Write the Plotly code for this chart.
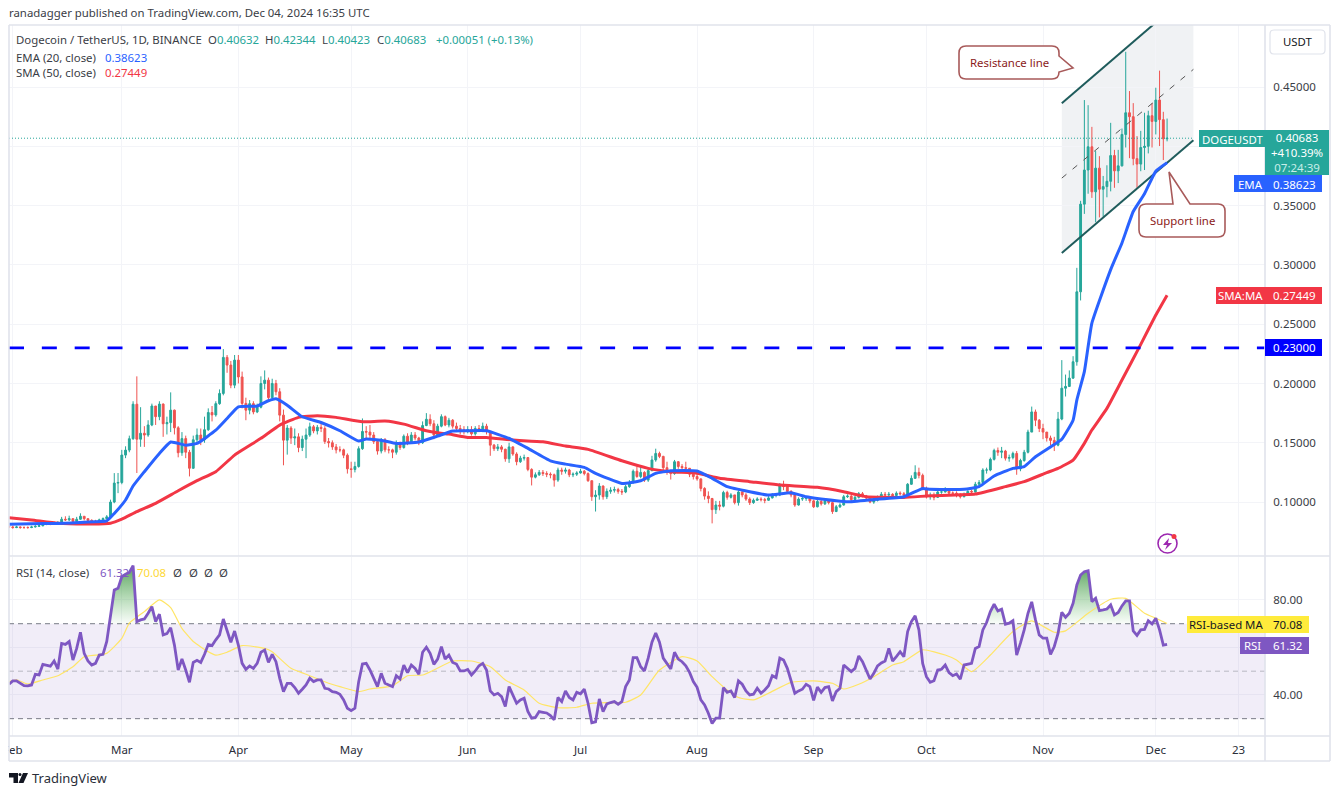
from datetime import timedelta
import pandas as pd
import plotly.graph_objects as go

W, H = 1340, 791

# ---------- data: daily candles Jan 31 - Dec 4 2024, in 1/10000 USDT (rows = months) ----------
close_e4 = [790,
 785,790,785,785,785,790,795,800,815,820,815,825,825,855,850,860,835,855,880,860,845,840,830,850,860,875,1000,1160,1165,
 1396,1438,1534,1825,1530,1580,1565,1650,1810,1720,1826,1660,1670,1775,1626,1416,1535,1420,1285,1525,1565,1525,1610,1755,1735,1830,1916,2220,2155,1986,2197,
 2055,1832,1775,1830,1760,1800,2000,2028,1881,2000,1930,1733,1522,1624,1540,1550,1460,1530,1565,1635,1600,1630,1620,1510,1500,1465,1440,1440,1395,1280,
 1275,1300,1450,1595,1590,1565,1510,1430,1525,1440,1440,1420,1495,1460,1555,1500,1565,1540,1500,1645,1698,1660,1565,1640,1720,1650,1690,1640,1620,1610,1600,
 1610,1575,1620,1610,1640,1595,1480,1450,1465,1445,1365,1465,1405,1340,1370,1375,1275,1210,1230,1250,1240,1235,1230,1185,1270,1260,1270,1230,1235,1245,
 1260,1240,1180,1045,1059,1135,1045,1090,1100,1105,1090,1085,1130,1165,1260,1215,1250,1185,1265,1355,1410,1385,1290,1265,1240,1340,1300,1290,1285,1235,1215,
 1195,1115,1050,1030,936,975,965,1080,1040,1060,995,1085,1060,1025,995,1015,1025,1020,1015,1035,1060,1060,1140,1130,1090,1060,975,1025,1030,1040,1010,
 960,1005,985,1010,995,920,960,975,1045,1050,1020,1040,1070,1050,1035,1000,1015,1040,1065,1060,1065,1055,1075,1070,1055,1150,1200,1250,1225,1110,
 1045,1050,1040,1085,1085,1105,1075,1075,1055,1045,1065,1090,1085,1150,1165,1270,1270,1360,1435,1420,1430,1370,1375,1410,1280,1350,1420,1590,1760,1690,1620,
 1590,1540,1520,1480,1700,1960,1975,2045,2183,2773,3512,3800,3996,3616,3816,3638,3660,3705,3922,3793,3835,4100,4283,4250,3896,3850,3990,4000,4258,4210,
 4390,4225,4063,4068]

high_e4 = [800,
 800,800,795,795,795,800,805,815,825,830,825,835,840,875,880,885,860,875,905,880,860,855,850,860,870,890,1020,1244,1245,
 1440,1470,1560,1850,2060,1800,1640,1690,1830,1810,1850,1832,1720,1925,1780,1640,1590,1560,1440,1560,1620,1620,1720,1790,1810,1850,1950,2290,2240,2190,2240,
 2240,2100,1880,1860,1850,1830,2060,2110,2050,2040,2030,1960,1780,1650,1640,1620,1580,1560,1620,1670,1650,1650,1660,1640,1540,1520,1490,1470,1450,1410,
 1340,1340,1470,1705,1640,1650,1590,1520,1540,1540,1470,1450,1520,1510,1570,1580,1590,1590,1550,1680,1750,1740,1690,1660,1740,1730,1710,1700,1670,1650,1640,
 1640,1640,1640,1650,1670,1660,1600,1490,1490,1480,1450,1500,1470,1420,1390,1400,1380,1285,1250,1270,1270,1260,1250,1240,1290,1290,1290,1280,1250,1260,
 1280,1270,1250,1180,1100,1160,1140,1115,1125,1130,1120,1110,1145,1185,1275,1300,1295,1260,1290,1390,1450,1425,1390,1340,1260,1355,1345,1320,1340,1260,1250,
 1240,1200,1125,1090,1035,1010,1010,1095,1095,1075,1060,1100,1110,1075,1040,1030,1040,1040,1035,1050,1075,1075,1160,1180,1140,1100,1070,1040,1050,1050,1050,
 1020,1020,1020,1025,1020,1005,975,990,1060,1065,1060,1055,1085,1085,1060,1040,1030,1055,1085,1085,1085,1075,1090,1090,1085,1160,1225,1310,1290,1240,
 1130,1080,1080,1095,1100,1125,1110,1090,1090,1075,1080,1100,1105,1170,1185,1285,1290,1375,1450,1460,1465,1440,1400,1425,1430,1365,1440,1610,1805,1780,1700,
 1660,1590,1560,1550,1760,2197,2075,2110,2230,2975,3540,4390,4347,4164,3960,3917,3750,3840,4198,3970,3970,4150,4797,4466,4364,4086,4130,4283,4300,4364,
 4494,4638,4291,4234]

low_e4 = [780,
 775,780,775,775,775,780,785,790,795,805,805,810,815,820,840,840,825,830,850,845,835,825,820,825,845,855,870,990,1075,
 1150,1370,1420,1525,1245,1466,1465,1550,1640,1650,1690,1550,1570,1590,1570,1377,1390,1370,1216,1280,1490,1480,1500,1600,1680,1720,1820,1900,2090,1960,1960,
 2000,1790,1690,1740,1740,1750,1790,1950,1860,1870,1900,1680,1310,1400,1490,1480,1420,1430,1370,1550,1580,1570,1590,1490,1460,1440,1410,1420,1370,1240,
 1205,1250,1290,1440,1540,1540,1490,1400,1410,1420,1410,1370,1400,1440,1450,1480,1490,1520,1480,1490,1640,1640,1530,1550,1630,1640,1630,1620,1590,1570,1570,
 1580,1560,1560,1590,1590,1570,1390,1430,1430,1420,1340,1330,1390,1310,1330,1350,1260,1140,1200,1220,1220,1210,1200,1130,1170,1230,1240,1210,1210,1220,
 1240,1225,1170,1010,920,1020,1020,1025,1070,1080,1070,1060,1075,1120,1155,1205,1200,1170,1170,1260,1340,1370,1270,1230,1190,1230,1280,1250,1260,1210,1190,
 1180,1090,1020,990,820,900,930,955,1020,1030,980,970,1040,1010,975,985,1010,1005,990,1010,1030,1040,1050,1100,1075,1040,960,970,1010,1010,990,
 950,955,970,975,980,900,915,950,970,1035,1005,1010,1030,1040,1025,990,985,1005,1030,1045,1050,1040,1045,1055,1040,1050,1145,1195,1200,1100,
 1030,1020,1015,1035,1070,1080,1060,1055,1040,1030,1040,1060,1065,1080,1135,1160,1240,1260,1350,1390,1370,1350,1340,1360,1230,1260,1340,1410,1590,1640,1590,
 1530,1510,1480,1430,1470,1690,1890,1970,2040,2150,2700,3430,3600,3565,3360,3400,3406,3570,3620,3650,3690,3830,3990,3900,3840,3650,3790,3800,3940,3990,
 4100,4002,3884,4042]

rsi_daily = [44.5,
 45.9,45.9,44.9,43.9,43.8,44.2,48.7,48.4,52.9,52.6,52.1,54.3,50.9,61.7,61.3,62.5,54.7,59.6,66.4,57.5,54.3,52.6,53.3,56.8,57.1,62.5,73.7,84.2,84.9,
 89.8,90.8,91.6,94.5,70.9,71.6,72.0,74.4,77.2,70.9,74.0,65.3,65.8,68.3,61.0,50.5,55.1,50.5,45.3,53.7,54.6,53.7,57.1,61.3,60.8,63.2,65.3,72.0,67.4,62.2,66.9,
 61.0,53.3,50.8,52.2,51.2,53.3,58.0,58.9,53.7,57.1,54.0,47.0,41.4,44.9,44.9,43.1,40.7,42.4,44.2,47.0,45.6,46.3,46.3,42.8,42.5,41.4,41.1,40.3,37.9,34.4,
 33.4,34.4,45.6,53.0,53.3,50.5,47.0,43.5,49.1,44.9,44.2,43.5,48.1,46.7,52.6,49.4,52.6,51.2,48.7,58.0,60.1,57.5,52.9,55.1,60.3,55.1,56.8,53.7,53.0,50.1,50.1,
 50.7,48.4,50.1,52.3,53.3,50.5,41.7,40.0,40.7,39.3,35.1,43.5,40.0,36.5,37.9,38.6,33.0,30.2,30.5,33.0,32.7,32.4,31.3,29.5,38.9,37.2,41.7,38.9,37.9,41.1,
 40.5,42.4,36.5,28.3,28.7,38.3,33.0,36.2,36.8,37.2,36.1,37.2,43.5,46.3,55.7,55.7,51.9,50.1,55.5,62.2,66.1,62.2,55.5,53.3,50.9,58.0,55.1,54.0,52.3,49.5,45.6,
 43.2,37.9,35.8,32.3,28.0,30.2,30.2,43.1,41.1,41.7,38.9,45.9,44.5,41.7,40.0,40.3,42.8,40.7,42.1,43.9,48.1,47.3,55.5,54.7,51.2,45.6,40.7,41.7,42.4,44.5,43.5,
 37.7,43.3,41.1,43.1,43.5,37.5,41.4,42.8,52.6,51.2,49.8,51.2,56.4,54.0,50.5,46.7,49.1,52.2,53.5,54.3,59.6,54.3,56.1,58.2,56.1,66.7,70.9,73.3,67.4,53.3,
 47.7,45.3,46.0,50.5,50.8,52.6,49.4,48.1,48.8,46.6,52.6,53.0,53.3,59.6,60.4,67.4,70.5,75.1,78.2,75.4,76.1,69.8,70.2,71.3,56.8,61.8,67.4,74.4,79.2,71.6,65.3,
 63.9,63.9,57.1,60.4,65.9,74.8,72.7,74.4,78.6,86.3,90.5,91.9,92.3,79.3,80.7,75.5,75.8,76.2,77.9,73.7,74.7,77.5,79.6,79.6,67.0,65.1,67.4,67.6,71.2,69.9,
 72.3,67.4,61.0,61.32]

ema_dates = ["01-31","02-09","02-13","02-20","02-26","02-28","03-02","03-04","03-07","03-11","03-14","03-18","03-21","03-26","03-29",
 "04-01","04-06","04-09","04-11","04-14","04-18","04-23","04-28","05-03","05-05","05-09","05-13","05-19","05-24","05-28",
 "06-01","06-06","06-12","06-17","06-23","06-27","07-02","07-05","07-12","07-17","07-21","07-25","08-01","08-05","08-09","08-15","08-20","08-26","08-30",
 "09-07","09-10","09-17","09-25","09-30","10-02","10-11","10-15","10-19","10-24","10-27","10-30","11-03","11-06","11-09","11-10","11-12","11-14","11-19","11-22","11-25","11-28","12-01","12-04"]
ema_values = [.0813,.0819,.0819,.0830,.0842,.0904,.1017,.1135,.1256,.1410,.1506,.1480,.1494,.1606,.1705,
 .1803,.1809,.1854,.1871,.1817,.1719,.1671,.1601,.1514,.1531,.1522,.1494,.1506,.1556,.1599,
 .1601,.1601,.1537,.1453,.1348,.1320,.1292,.1242,.1157,.1180,.1242,.1264,.1262,.1200,.1130,.1087,.1059,.1079,.1045,
 .1011,.1002,.1022,.1045,.1115,.1107,.1107,.1130,.1220,.1284,.1299,.1382,.1465,.1530,.1690,.1860,.2100,.2509,.2960,.3185,.3450,.3600,.3790,.38623]

sma_dates = ["01-31","02-06","02-13","02-22","02-27","03-01","03-05","03-10","03-16","03-21","03-26","03-31","04-07","04-12","04-17","04-22","04-27",
 "05-04","05-10","05-15","05-21","05-24","05-27","06-01","06-06","06-13","06-21","06-27","07-03","07-12","07-19","07-25","08-01","08-07","08-15","08-23",
 "09-02","09-09","09-15","09-25","10-02","10-14","10-22","10-27","11-02","11-05","11-09","11-12","11-14","11-18","11-22","11-27","12-01","12-04"]
sma_values = [.0868,.0849,.0821,.0815,.0821,.0855,.0919,.0989,.1095,.1180,.1256,.1396,.1537,.1649,.1714,.1728,.1714,
 .1677,.1683,.1657,.1601,.1584,.1573,.1545,.1545,.1523,.1508,.1472,.1444,.1348,.1284,.1256,.1242,.1200,.1172,.1144,
 .1124,.1087,.1045,.1039,.1053,.1067,.1130,.1172,.1248,.1284,.1354,.1495,.1607,.1790,.2029,.2330,.2577,.27449]

rsima_dates = ["01-31","02-02","02-05","02-09","02-13","02-17","02-20","02-23","02-26","03-01","03-03","03-07","03-11","03-14","03-17","03-20","03-24","03-26","03-29",
 "04-02","04-08","04-10","04-15","04-19","04-25","04-28","05-03","05-06","05-12","05-16","05-20","05-23","05-28","06-02","06-07","06-11","06-16","06-20","06-25","06-30",
 "07-04","07-08","07-13","07-17","07-22","07-28","08-01","08-05","08-09","08-12","08-16","08-20","08-26","09-01","09-06","09-09","09-13","09-17","09-22","09-25","09-30",
 "10-06","10-09","10-13","10-18","10-24","10-29","11-04","11-07","11-13","11-19","11-23","11-28","12-01","12-04"]
rsima_values = [45.6,46.4,44.6,46.3,48.1,51.9,56.1,56.8,57.5,63.8,70.2,75.1,80.0,76.8,68.0,62.5,58.2,56.8,58.0,
 60.8,59.6,58.2,51.2,48.7,44.9,43.5,41.4,42.5,43.8,48.1,48.4,50.5,54.3,54.3,51.9,46.3,42.1,36.5,34.6,34.8,
 36.5,36.8,36.9,40.0,50.5,56.1,54.3,47.7,42.1,38.9,37.9,40.7,45.3,45.9,44.9,42.5,44.5,47.7,52.6,54.0,59.0,
 56.8,54.7,49.8,56.8,66.7,71.2,66.4,67.0,74.4,80.3,80.7,74.4,72.3,70.08]

channel_dates = ["2024-11-06", "2024-12-11"]
channel_top = [.4364, .5316]
channel_mid = [.3732, .4649]
channel_low = [.3100, .4052]

price_ticks = [.10, .15, .20, .25, .30, .35, .40, .45]
price_labels = ["0.10000", "0.15000", "0.20000", "0.25000", "0.30000", "0.35000", "", "0.45000"]
rsi_ticks = [40, 60, 80]
rsi_labels = ["40.00", "", "80.00"]
month_ticks = ["2024-02-01","2024-03-01","2024-04-01","2024-05-01","2024-06-01","2024-07-01","2024-08-01","2024-09-01","2024-10-01","2024-11-01","2024-12-01","2024-12-23"]
month_labels = ["Feb","Mar","Apr","May","Jun","Jul","Aug","Sep","Oct","Nov","Dec","23"]

last_close, support_level = .40683, .23

# ---------- derived ----------
close = [v / 1e4 for v in close_e4]
high = [v / 1e4 for v in high_e4]
low = [v / 1e4 for v in low_e4]
open_ = [.0795] + close[:-1]
dates = pd.date_range("2024-01-31", periods=len(close), freq="D")
assert len(close) == len(high) == len(low) == len(rsi_daily) == 309
d = lambda mmdd: "2024-" + mmdd

# ---------- layout helpers (pixel page coordinates -> paper) ----------
px = lambda x: x / W
py = lambda y: 1 - y / H
FONT = "Noto Sans"
GREEN, RED, BLUE, PURPLE, YEL = "#26a69a", "#ef5350", "#2962ff", "#7e57c2", "#ffeb3b"
INK = "#3a3d46"
GRID, FRAME = "#f3f4f8", "#e0e3eb"
X0, X1, XR = 9, 1265, 1330
LBL = 11.4

shapes, annos = [], []
def text(x, y, s, size=LBL, color="#131722", anchor="left"):
    annos.append(dict(x=px(x), y=py(y), xref="paper", yref="paper", text=s, showarrow=False, xanchor=anchor,
                      yanchor="middle", font=dict(family=FONT, size=size, color=color), borderpad=0, borderwidth=0))
def rect(x0, y0, x1, y1, fill, line=None, lw=0):
    shapes.append(dict(type="rect", xref="paper", yref="paper", x0=px(x0), x1=px(x1), y0=py(y0), y1=py(y1),
                       fillcolor=fill, line=dict(color=line or fill, width=lw), layer="above"))
def path(points, fill=None, line="rgba(0,0,0,0)", lw=1):
    s = "M " + " L ".join(f"{px(a):.5f},{py(b):.5f}" for a, b in points) + " Z"
    shapes.append(dict(type="path", xref="paper", yref="paper", path=s, fillcolor=fill or "rgba(0,0,0,0)",
                       line=dict(color=line, width=lw), layer="above"))
def rounded(x0, y0, x1, y1, r, notch, fill="white", line="#a85a5a", lw=1.6):
    P = lambda a, b: f"{px(a):.5f},{py(b):.5f}"
    s = f"M {P(x0+r,y0)} "
    for pt in notch.get("top", []): s += f"L {P(*pt)} "
    s += f"L {P(x1-r,y0)} Q {P(x1,y0)} {P(x1,y0+r)} "
    for pt in notch.get("right", []): s += f"L {P(*pt)} "
    s += f"L {P(x1,y1-r)} Q {P(x1,y1)} {P(x1-r,y1)} L {P(x0+r,y1)} Q {P(x0,y1)} {P(x0,y1-r)} L {P(x0,y0+r)} Q {P(x0,y0)} {P(x0+r,y0)} Z"
    shapes.append(dict(type="path", xref="paper", yref="paper", path=s, fillcolor=fill, line=dict(color=line, width=lw), layer="above"))

fig = go.Figure()

# channel fill goes under the candles, as a shape on the data axes
channel_path = (f"M {channel_dates[0]},{channel_top[0]} L {channel_dates[1]},{channel_top[1]} "
                f"L {channel_dates[1]},{channel_low[1]} L {channel_dates[0]},{channel_low[0]} Z")
shapes.append(dict(type="path", xref="x", yref="y", path=channel_path, fillcolor="#f0f2f4", line=dict(width=0), layer="below"))

# candles
fig.add_trace(go.Candlestick(x=dates, open=open_, high=high, low=low, close=close, whiskerwidth=0, xaxis="x", yaxis="y",
                             increasing=dict(line=dict(color=GREEN, width=1), fillcolor=GREEN),
                             decreasing=dict(line=dict(color=RED, width=1), fillcolor=RED)))
# channel lines
for ys, col, w, dash in [(channel_top, "#1f5c5c", 2, "solid"), (channel_low, "#1f5c5c", 2, "solid"), (channel_mid, "#555555", 1, "6px 8px")]:
    fig.add_trace(go.Scatter(x=channel_dates, y=ys, mode="lines", line=dict(color=col, width=w, dash=dash), xaxis="x", yaxis="y"))
# moving averages
fig.add_trace(go.Scatter(x=[d(t) for t in sma_dates], y=sma_values, mode="lines", line=dict(color="#f23645", width=3, shape="spline", smoothing=.4), xaxis="x", yaxis="y"))
fig.add_trace(go.Scatter(x=[d(t) for t in ema_dates], y=ema_values, mode="lines", line=dict(color=BLUE, width=3, shape="spline", smoothing=.4), xaxis="x", yaxis="y"))
# level lines
fig.add_trace(go.Scatter(x=[dates[0], "2024-12-30"], y=[support_level] * 2, mode="lines", line=dict(color="#0000ff", width=2.6, dash="15px 17.84px"), xaxis="x", yaxis="y"))
fig.add_trace(go.Scatter(x=[dates[0], "2024-12-11"], y=[last_close] * 2, mode="lines", line=dict(color=GREEN, width=1, dash="1px 2px"), xaxis="x", yaxis="y"))

# RSI band + levels
rng = [dates[0], "2024-12-30 01:00"]
fig.add_trace(go.Scatter(x=[rng[0], rng[1], rng[1], rng[0]], y=[30, 30, 70, 70], mode="lines", fill="toself", fillcolor="rgba(126,87,194,.11)",
                         line=dict(width=0), xaxis="x2", yaxis="y2"))
for lvl, col in [(70, "#787b86"), (50, "#b8b9c2"), (30, "#787b86")]:
    fig.add_trace(go.Scatter(x=rng, y=[lvl, lvl], mode="lines", line=dict(color=col, width=1, dash="5px 4px"), xaxis="x2", yaxis="y2"))
# overbought gradient: polygons built from the RSI values above 70
gx, gy = [], []
i, n = 0, len(rsi_daily)
while i < n:
    if rsi_daily[i] > 70:
        j = i
        while j + 1 < n and rsi_daily[j + 1] > 70:
            j += 1
        def cross(a, b):
            f = (70 - rsi_daily[a]) / (rsi_daily[b] - rsi_daily[a])
            return dates[a] + timedelta(days=f * (b - a))
        left = cross(i - 1, i)
        right = cross(j + 1, j)
        gx += [left] + list(dates[i:j + 1]) + [right, left, None]
        gy += [70] + rsi_daily[i:j + 1] + [70, 70, None]
        i = j + 1
    else:
        i += 1
fig.add_trace(go.Scatter(x=gx, y=gy, mode="lines", fill="toself", line=dict(width=0), xaxis="x2", yaxis="y2",
                         fillgradient=dict(type="vertical", start=70, stop=95,
                                           colorscale=[[0, "rgba(76,175,80,0.03)"], [1, "rgba(56,142,60,0.85)"]])))
fig.add_trace(go.Scatter(x=[d(t) for t in rsima_dates], y=rsima_values, mode="lines", line=dict(color="#ffe566", width=1.2, shape="spline", smoothing=.5), xaxis="x2", yaxis="y2"))
fig.add_trace(go.Scatter(x=dates, y=rsi_daily, mode="lines", line=dict(color=PURPLE, width=2.8), xaxis="x2", yaxis="y2"))

# ---------- frame ----------
rect(0, 0, X0 - 0.5, 791, "white")                # clips the "Feb" label like the original pane edge
for a in [(X0, 25, XR, 25), (X0, 556, XR, 556), (X0, 736, XR, 736), (X0, 761, XR, 761), (X0, 25, X0, 761), (XR, 25, XR, 761), (X1, 25, X1, 761)]:
    shapes.append(dict(type="line", xref="paper", yref="paper", x0=px(a[0]), x1=px(a[2]), y0=py(a[1]), y1=py(a[3]),
                       line=dict(color=FRAME, width=1.6), layer="above"))

# ---------- header texts ----------
text(9, 13, "ranadagger published on TradingView.com, Dec 04, 2024 16:35 UTC", LBL, INK)
text(16, 40, "Dogecoin / TetherUS, 1D, BINANCE", LBL, INK)
for xx, lab, val in [(208, "O", "0.40632"), (265, "H", "0.42344"), (322, "L", "0.40423"), (377, "C", "0.40683")]:
    text(xx, 40, f'{lab}<span style="color:{GREEN}">{val}</span>', LBL, INK)
text(436, 40, "+0.00051 (+0.13%)", LBL, GREEN)
text(16, 57, "EMA (20, close)", LBL, INK); text(105, 57, "0.38623", LBL, BLUE)
text(16, 73, "SMA (50, close)", LBL, INK); text(105, 73, "0.27449", LBL, "#f23645")
text(16, 572, "RSI (14, close)", LBL, INK); text(100, 572, "61.32", LBL, PURPLE); text(137, 572, "70.08", LBL, "#fdd835")
for xx in (173, 189, 204, 219):
    text(xx, 572, "Ø", LBL, INK)

# USDT box
rounded(1270, 30, 1325, 54, 4, {}, fill="white", line=FRAME, lw=1.2)
text(1297.5, 42, "USDT", LBL, "#131722", "center")

# ---------- price / indicator tags ----------
rect(1199, 130, 1265, 147, GREEN); text(1232, 139, "DOGEUSDT", LBL, "white", "center")
rect(1265, 130, 1329, 175, GREEN)
text(1297, 152.5, '0.40683<br>+410.39%<br><span style="color:#c8eee9">07:24:39</span>', 11.5, "white", "center")
rect(1234, 175, 1265, 192, BLUE); text(1250, 184, "EMA", LBL, "white", "center")
rect(1265, 175, 1322, 192, BLUE); text(1294, 184, "0.38623", 11.5, "white", "center")
rect(1216, 287, 1265, 304, "#f23645"); text(1240.5, 295.5, "SMA:MA", LBL, "white", "center")
rect(1265, 287, 1322, 304, "#f23645"); text(1294, 295.5, "0.27449", 11.5, "white", "center")
rect(1265, 339, 1322, 356, "#0000ff"); text(1294, 347.5, "0.23000", 11.5, "white", "center")
rect(1187, 616, 1265, 633, YEL); text(1226, 624.5, "RSI-based MA", LBL, "#131722", "center")
rect(1265, 616, 1309, 633, YEL); text(1287, 624.5, "70.08", 11.5, "#131722", "center")
rect(1240, 637, 1265, 654, PURPLE); text(1252.5, 645.5, "RSI", LBL, "white", "center")
rect(1265, 637, 1309, 654, PURPLE); text(1287, 645.5, "61.32", 11.5, "white", "center")

# ---------- callouts ----------
rounded(959, 46, 1059, 79, 7, {"right": [(1059, 56), (1073, 68), (1059, 72)]})
text(1009, 62.5, "Resistance line", LBL, "#8b1a1a", "center")
rounded(1139, 204, 1225, 237, 7, {"top": [(1173, 204), (1169, 172), (1190, 204)]})
text(1182, 220, "Support line", LBL, "#8b1a1a", "center")

# ---------- bolt icon ----------
shapes.append(dict(type="circle", xref="paper", yref="paper", x0=px(1158), x1=px(1177), y0=py(534), y1=py(553),
                   fillcolor="white", line=dict(color="#9c27b0", width=1.6), layer="above"))
path([(1169, 538), (1163, 545), (1167, 545), (1165, 550), (1172, 543), (1168, 543)], fill="#9c27b0")
shapes.append(dict(type="circle", xref="paper", yref="paper", x0=px(1171.5), x1=px(1176.5), y0=py(534), y1=py(539),
                   fillcolor="#f23645", line=dict(width=0), layer="above"))

# ---------- TradingView logo ----------
path([(9, 773), (18, 773), (18, 783), (13.5, 783), (13.5, 777.5), (9, 777.5)], fill="#131722")
shapes.append(dict(type="circle", xref="paper", yref="paper", x0=px(18.5), x1=px(21.5), y0=py(773), y1=py(776),
                   fillcolor="#131722", line=dict(width=0), layer="above"))
path([(23, 773), (28, 773), (23.5, 783), (18.5, 783)], fill="#131722")
text(32, 778, "TradingView", 13, "#2a2e39")

axis_common = dict(showline=False, zeroline=False, gridcolor=GRID, gridwidth=1)
fig.update_layout(
    width=W, height=H, margin=dict(l=0, r=0, t=0, b=0, autoexpand=False), autosize=False,
    paper_bgcolor="white", plot_bgcolor="white", showlegend=False,
    font=dict(family=FONT, size=11, color="#131722"), shapes=shapes, annotations=annos,
    xaxis=dict(domain=[px(X0), px(X1)], range=rng, type="date", anchor="y", tickvals=month_ticks, showticklabels=False,
               ticks="", rangeslider=dict(visible=False), **axis_common),
    yaxis=dict(domain=[py(556), py(25)], range=[.0545, .5023], anchor="x", side="right", tickvals=price_ticks,
               ticktext=price_labels, ticks="outside", ticklen=5, tickcolor="rgba(0,0,0,0)",
               tickfont=dict(family=FONT, size=11.5, color=INK), **axis_common),
    xaxis2=dict(domain=[px(X0), px(X1)], range=rng, type="date", anchor="y2", tickvals=month_ticks, ticktext=month_labels,
                ticks="outside", ticklen=3, tickcolor="rgba(0,0,0,0)", tickfont=dict(family=FONT, size=11.5, color="#2a2e39"), **axis_common),
    yaxis2=dict(domain=[py(736), py(557)], range=[22.7, 98.1], anchor="x2", side="right", tickvals=rsi_ticks,
                ticktext=rsi_labels, ticks="outside", ticklen=5, tickcolor="rgba(0,0,0,0)",
                tickfont=dict(family=FONT, size=11.5, color=INK), **axis_common),
)
fig.write_html("out.html", config=dict(displayModeBar=False),
               post_script="document.body.style.margin='0';document.documentElement.style.overflow='hidden';")
